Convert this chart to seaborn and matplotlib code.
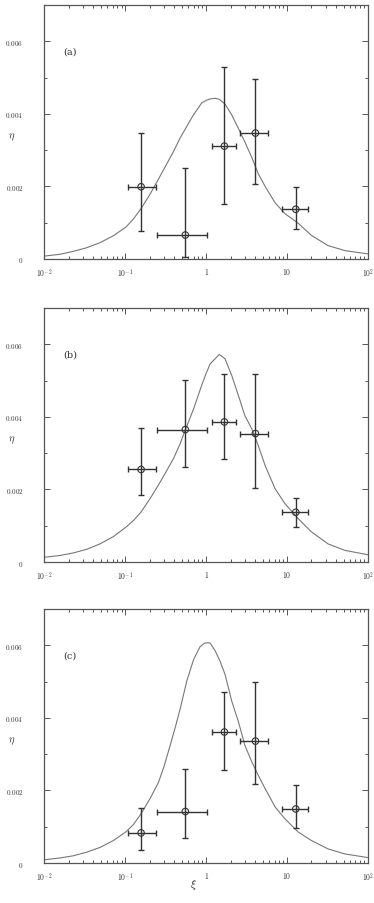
import numpy as np
import pandas as pd
import seaborn as sns
import matplotlib
matplotlib.use("Agg")
import matplotlib.pyplot as plt
from matplotlib.ticker import FixedLocator, LogLocator, NullFormatter

sns.set_theme(style="ticks")
plt.rcParams['font.family'] = ['DejaVu Serif']
plt.rcParams['mathtext.fontset'] = 'cm'

# binned measurements (same xi bins in every panel)
xi_pts = [0.157, 0.553, 1.68, 4.06, 12.8]
xi_lo = [0.108, 0.245, 1.18, 2.65, 8.6]
xi_hi = [0.238, 1.03, 2.32, 5.77, 18.3]

a_eta = [0.00199, 0.00066, 0.00311, 0.00347, 0.00137]
a_lo = [0.00077, 0.00005, 0.00152, 0.00206, 0.00082]
a_hi = [0.00348, 0.00251, 0.00529, 0.00496, 0.00198]

b_eta = [0.00255, 0.00365, 0.00386, 0.00354, 0.00137]
b_lo = [0.00186, 0.00261, 0.00284, 0.00203, 0.00096]
b_hi = [0.00368, 0.00501, 0.00519, 0.00517, 0.00176]

c_eta = [0.00083, 0.00142, 0.00361, 0.00336, 0.00149]
c_lo = [0.00036, 0.00070, 0.00257, 0.00218, 0.00096]
c_hi = [0.00153, 0.00258, 0.00472, 0.00499, 0.00214]

# model curves
a_curve_x = [0.01, 0.0156, 0.0228, 0.0334, 0.0488, 0.0713, 0.102, 0.126, 0.157, 0.203,
             0.257, 0.326, 0.394, 0.475, 0.575, 0.70, 0.77, 0.88, 1.0, 1.12, 1.29,
             1.45, 1.71, 2.07, 2.5, 3.0, 3.66, 4.4, 5.35, 7.1, 9.4, 13.8, 20, 32, 52, 100]
a_curve_y = [0.00008, 0.00013, 0.00021, 0.00031, 0.00045, 0.00064, 0.00088, 0.0011,
             0.00139, 0.00179, 0.0022, 0.00262, 0.00296, 0.00333, 0.00365, 0.00398,
             0.00411, 0.0043, 0.00437, 0.00441, 0.00443, 0.0044, 0.00427, 0.00397,
             0.0036, 0.00323, 0.0028, 0.00235, 0.002, 0.00155, 0.00125, 0.00098,
             0.00065, 0.00037, 0.00023, 0.00014]

b_curve_x = [0.01, 0.0156, 0.0228, 0.0334, 0.0488, 0.0713, 0.102, 0.126, 0.157, 0.203,
             0.257, 0.326, 0.394, 0.475, 0.55, 0.70, 0.88, 1.0, 1.12, 1.29, 1.45, 1.71,
             2.07, 2.5, 3.0, 3.66, 4.4, 5.35, 7.1, 9.4, 13.8, 20, 32, 52, 100]
b_curve_y = [0.00013, 0.00018, 0.00025, 0.00035, 0.0005, 0.0007, 0.00096, 0.00114,
             0.00138, 0.00175, 0.00212, 0.00252, 0.00285, 0.00325, 0.00363, 0.00422,
             0.00487, 0.0052, 0.00546, 0.0056, 0.00572, 0.0056, 0.00514, 0.00459,
             0.00404, 0.00367, 0.00321, 0.00266, 0.00202, 0.00161, 0.00119, 0.00083,
             0.0005, 0.00032, 0.0002]

c_curve_x = [0.01, 0.0156, 0.0228, 0.0334, 0.0488, 0.0713, 0.102, 0.126, 0.157, 0.203,
             0.257, 0.30, 0.36, 0.42, 0.48, 0.575, 0.70, 0.84, 0.95, 1.06, 1.12, 1.29,
             1.48, 1.71, 2.07, 2.5, 3.0, 3.66, 4.4, 5.35, 7.1, 9.4, 13.8, 20, 32, 52, 100]
c_curve_y = [0.00009, 0.00014, 0.0002, 0.0003, 0.00043, 0.00062, 0.00086, 0.00106,
             0.00136, 0.00178, 0.00222, 0.00265, 0.00325, 0.00378, 0.00427, 0.00501,
             0.00561, 0.00596, 0.00606, 0.00607, 0.00606, 0.00585, 0.00557, 0.0052,
             0.00446, 0.0039, 0.00325, 0.00279, 0.00242, 0.00205, 0.00155, 0.00122,
             0.00085, 0.00062, 0.00039, 0.00025, 0.00015]

panels = [
    ("(a)", a_curve_x, a_curve_y, a_eta, a_lo, a_hi),
    ("(b)", b_curve_x, b_curve_y, b_eta, b_lo, b_hi),
    ("(c)", c_curve_x, c_curve_y, c_eta, c_lo, c_hi),
]

x_ticks = [0.01, 0.1, 1, 10, 100]
x_labels = [r"$10^{-2}$", r"$10^{-1}$", r"$1$", r"$10$", r"$10^{2}$"]
y_ticks = [0, 0.002, 0.004, 0.006]
y_labels = [r"$0$", r"$0.002$", r"$0.004$", r"$0.006$"]

frame_col = "#555555"
bar_col = "#333333"
curve_col = "#777777"

fig = plt.figure(figsize=(3.74, 9.04), dpi=100)
tops = [0.9934, 0.6582, 0.3252]
height = 0.281

for (tag, cx, cy, eta, lo, hi), top in zip(panels, tops):
    ax = fig.add_axes([0.1185, top - height, 0.8655, height])
    ax.set_xscale("log")
    curve = pd.DataFrame({"xi": cx, "eta": cy})
    sns.lineplot(data=curve, x="xi", y="eta", ax=ax, color=curve_col, lw=0.8)

    xerr = [np.array(xi_pts) - np.array(xi_lo), np.array(xi_hi) - np.array(xi_pts)]
    yerr = [np.array(eta) - np.array(lo), np.array(hi) - np.array(eta)]
    ax.errorbar(xi_pts, eta, xerr=xerr, yerr=yerr, fmt="none", ecolor=bar_col,
                elinewidth=1.0, capsize=2, capthick=1.0)
    pts = pd.DataFrame({"xi": xi_pts, "eta": eta})
    sns.scatterplot(data=pts, x="xi", y="eta", ax=ax, marker="o", s=22,
                    facecolor="none", edgecolor=bar_col, linewidth=0.8, zorder=5)

    ax.set_xlim(0.01, 100)
    ax.set_ylim(0, 0.007)
    ax.set_xticks(x_ticks)
    ax.set_xticklabels(x_labels)
    ax.xaxis.set_minor_locator(LogLocator(base=10, subs=np.arange(2, 10)))
    ax.xaxis.set_minor_formatter(NullFormatter())
    ax.set_yticks(y_ticks)
    ax.set_yticklabels(y_labels)
    ax.yaxis.set_minor_locator(FixedLocator([0.001, 0.003, 0.005]))
    ax.tick_params(which="both", direction="in", top=True, right=True,
                   color=frame_col, width=0.7)
    ax.tick_params(which="major", length=4)
    ax.tick_params(which="minor", length=2)
    ax.tick_params(axis="y", which="major", labelsize=5.2, pad=15, labelcolor="#333333")
    ax.tick_params(axis="x", which="major", labelsize=5.5, pad=5, labelcolor="#333333")
    for sp in ax.spines.values():
        sp.set_color(frame_col)
        sp.set_linewidth(0.9)
    ax.set_xlabel("")
    ax.set_ylabel("")
    ax.text(0.058, 0.82, tag, transform=ax.transAxes, fontsize=7, color="#333333",
            va="center", ha="left", family="DejaVu Serif")
    ax.text(-0.1, 0.484, r"$\eta$", transform=ax.transAxes, fontsize=7.5,
            color="#333333", va="center", ha="center")

ax.text(0.46, -0.083, r"$\xi$", transform=ax.transAxes, fontsize=8,
        color="#333333", va="center", ha="center")

fig.savefig("out.png", dpi=100)
